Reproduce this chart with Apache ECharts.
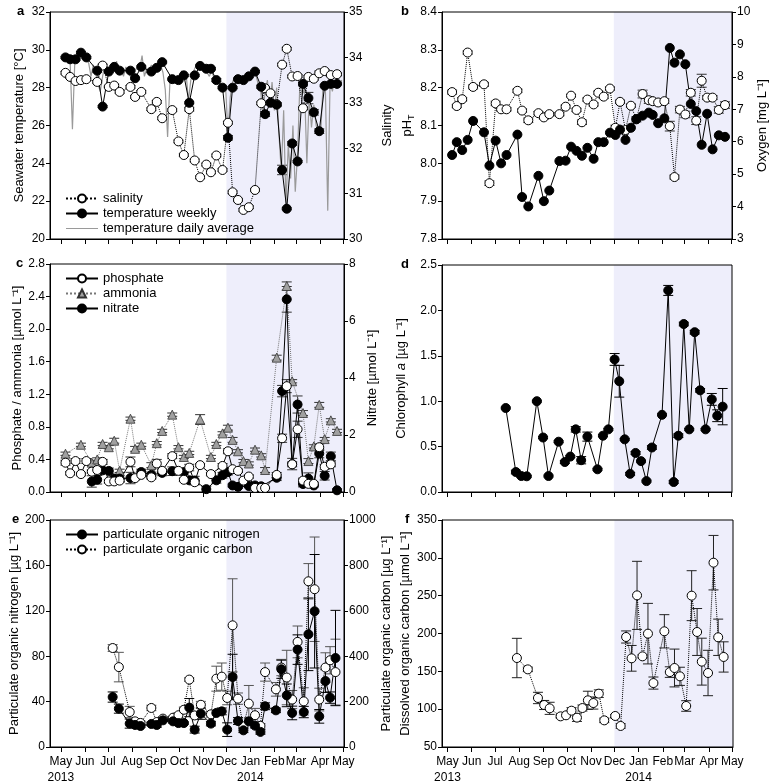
<!DOCTYPE html>
<html>
<head>
<meta charset="utf-8">
<script src="https://cdn.jsdelivr.net/npm/echarts@6/dist/echarts.min.js"></script>
<style>
  html, body { margin: 0; padding: 0; background: #fff; }
  #chart { width: 772px; height: 784px; }
</style>
</head>
<body>
<div id="chart"></div>
<script>
// ---- axis ticks ----
var tickDates = ['2013-05-01', '2013-06-01', '2013-07-01', '2013-08-01', '2013-09-01', '2013-10-01', '2013-11-01',
  '2013-12-01', '2014-01-01', '2014-02-01', '2014-03-01', '2014-04-01', '2014-05-01'];
var monthLabels = ['May', 'Jun', 'Jul', 'Aug', 'Sep', 'Oct', 'Nov', 'Dec', 'Jan', 'Feb', 'Mar', 'Apr', 'May'];
var yearDates = ['2013-05-01', '2014-01-01'];
var yearLabels = ['2013', '2014'];
var shadeStart = '2013-12-01';

// ---- weekly sampling dates (panels a, b, c) ----
var weekDates = ['2013-05-07', '2013-05-13', '2013-05-20', '2013-05-27', '2013-06-03',
  '2013-06-10', '2013-06-17', '2013-06-24', '2013-07-02', '2013-07-09',
  '2013-07-16', '2013-07-30', '2013-08-05', '2013-08-13', '2013-08-26',
  '2013-09-02', '2013-09-09', '2013-09-22', '2013-09-30', '2013-10-07',
  '2013-10-14', '2013-10-21', '2013-10-28', '2013-11-05', '2013-11-11',
  '2013-11-18', '2013-11-26', '2013-12-03', '2013-12-09', '2013-12-16',
  '2013-12-23', '2013-12-30', '2014-01-07', '2014-01-15', '2014-01-20',
  '2014-01-27', '2014-02-04', '2014-02-11', '2014-02-17', '2014-02-24',
  '2014-03-03', '2014-03-10', '2014-03-17', '2014-03-24', '2014-03-31',
  '2014-04-07', '2014-04-15', '2014-04-23'];

// a: salinity, weekly temperature
var salinity = [33.66, 33.57, 33.48, 33.50, 33.52, null, 33.46, 33.82, 33.35, 33.38,
  33.24, 33.35, 33.13, 33.24, 32.86, 33.02, 32.66, 32.84, 32.15, 31.85,
  32.86, 31.73, 31.36, 31.64, 31.47, 31.84, 31.52, 32.56, 31.03, 30.86,
  30.64, 30.70, 31.08, 32.99, 33.32, 33.21, 32.97, 33.84, 34.19, 33.58,
  33.59, 32.88, 33.57, 33.53, 33.65, 33.70, 33.61, 33.63];
var salinityErr = [0.03, 0.03, 0.02, 0.02, 0.03, null, 0.03, 0.03, 0.02, 0.03,
  0.03, 0.03, 0.03, 0.03, 0.03, 0.03, 0.03, 0.03, 0.03, 0.03,
  0.04, 0.03, 0.03, 0.03, 0.03, 0.03, 0.03, 0.03, 0.03, 0.03,
  0.03, 0.03, 0.03, 0.03, 0.03, 0.03, 0.03, 0.03, 0.03, 0.03,
  0.03, 0.03, 0.03, 0.03, 0.05, 0.03, 0.03, 0.03];
var tempWeekly = [29.6, 29.5, 29.5, 29.85, 29.6, null, 28.9, 27.0, 28.85, 29.1,
  28.9, 28.9, 28.5, 29.1, 28.85, 29.05, 29.35, 28.45, 28.4, 28.65,
  27.2, 28.65, 29.15, 29.0, 29.0, 28.4, 28.0, 25.35, 28.0, 28.45,
  28.4, 28.6, 28.85, 28.05, 26.6, 27.2, 27.1, 23.65, 21.6, 25.05,
  24.1, 28.2, 27.45, 26.7, 25.7, 28.1, 28.2, 28.2];
var tempWeeklyErr = [0.05, 0.05, 0.05, 0.05, 0.05, null, 0.08, 0.05, 0.05, 0.05,
  0.05, 0.05, 0.05, 0.05, 0.05, 0.05, 0.05, 0.05, 0.05, 0.05,
  0.05, 0.05, 0.05, 0.05, 0.05, 0.08, 0.05, 0.12, 0.05, 0.05,
  0.05, 0.05, 0.05, 0.08, 0.12, 0.1, 0.1, 0.25, 0.05, 0.1,
  0.05, 0.1, 0.3, 0.15, 0.12, 0.05, 0.05, 0.05];

// a: daily average temperature, one value every 3 days from May 1 2013
var dailyStart = '2013-05-01';
var dailyStep = 3;
var tempDaily = [
  29.6, 29.7, 29.5, 29.8, 29.4, 25.8, 29.3, 29.6, 29.8, 29.7, 29.9,
  29.5, 29.3, 28.6, 29.2, 28.8, 28.2, 27.8, 28.6, 29.2, 28.7,
  28.8, 29.2, 28.9, 29.4, 28.7, 29.0, 28.6, 29.1, 28.8, 28.6,
  28.4, 28.9, 29.1, 29.0, 29.7, 28.6, 29.0, 28.8, 29.2, 29.0,
  29.1, 29.4, 29.2, 28.8, 27.9, 25.4, 28.3, 28.6, 28.2, 28.5,
  28.4, 28.9, 28.6, 28.7, 27.3, 28.4, 28.8, 29.1, 29.2, 29.1,
  28.9, 29.1, 28.8, 28.6, 28.9, 28.5, 28.3, 28.6, 28.1, 27.8, 28.0,
  25.6, 27.5, 28.3, 28.6, 28.4, 28.2, 28.5, 28.4, 28.7, 28.5,
  28.8, 29.0, 28.7, 28.2, 28.0, 26.6, 27.8, 28.4, 27.0, 28.3,
  26.8, 28.0, 25.5, 23.5, 26.8, 21.8, 25.0, 23.2, 26.0, 22.5,
  24.5, 28.3, 27.6, 28.0, 24.0, 27.5, 25.9, 27.1, 26.0, 25.6,
  25.7, 28.2, 27.8, 21.5, 28.3, 27.8, 28.4, 28.3, 28.1, 28.4];

// b: pH and oxygen
var ph = [8.022, 8.056, 8.035, 8.062, 8.112, null, 8.082, 7.994, 8.06, 8.0,
  8.022, 8.076, 7.911, 7.886, 7.967, 7.9, 7.928, 8.006, 8.007, 8.044,
  8.033, 8.02, 8.041, 8.012, 8.056, 8.056, 8.081, 8.075, 8.089, 8.062,
  8.094, 8.117, 8.126, 8.134, 8.128, 8.106, 8.119, 8.305, 8.266, 8.288,
  8.262, 8.157, 8.138, 8.049, 8.131, 8.037, 8.074, 8.07];
var oxygen = [7.53, 7.10, 7.31, 8.75, 7.69, null, 7.77, 4.72, 7.18, 7.0,
  7.0, 7.57, 6.96, 6.66, 6.88, 6.75, 6.85, 6.85, 7.08, 7.42,
  6.98, 6.60, 7.30, 7.15, 7.51, 7.39, 7.64, 6.43, 7.23, 6.36,
  7.11, 6.69, 7.47, 7.28, 7.25, 7.21, 7.25, 6.48, 4.91, 6.99,
  6.84, 7.51, 6.65, 7.88, 7.36, 7.36, 6.98, 7.13];
var oxygenErr = [0.06, 0.05, 0.05, 0.05, 0.06, null, 0.06, 0.07, 0.07, 0.05,
  0.05, 0.05, 0.05, 0.07, 0.05, 0.05, 0.05, 0.05, 0.05, 0.04,
  0.05, 0.07, 0.05, 0.05, 0.05, 0.06, 0.05, 0.08, 0.05, 0.07,
  0.05, 0.08, 0.12, 0.1, 0.08, 0.08, 0.07, 0.15, 0.06, 0.1,
  0.1, 0.1, 0.12, 0.2, 0.06, 0.06, 0.1, 0.1];

// c: nutrients
var phosphate = [0.36, 0.23, 0.38, 0.22, 0.38, 0.25, 0.27, 0.37, 0.13, 0.13,
  0.14, 0.37, 0.17, 0.21, 0.18, 0.35, 0.26, 0.44, 0.26, 0.15,
  0.3, 0.12, 0.33, null, 0.22, null, 0.32, 0.5, 0.28, 0.26,
  0.14, 0.19, 0.05, 0.05, 0.05, null, 0.21, 0.66, 1.30, 0.34,
  0.77, 0.14, 0.10, 0.10, 0.55, 0.31, 0.34, null];
var phosphateErr = [0.03, 0.02, 0.03, 0.02, 0.03, 0.02, 0.02, 0.03, 0.02, 0.02,
  0.02, 0.06, 0.02, 0.02, 0.02, 0.05, 0.02, 0.03, 0.02, 0.02,
  0.04, 0.02, 0.02, null, 0.02, null, 0.03, 0.03, 0.02, 0.02,
  0.02, 0.02, 0.01, 0.01, 0.01, null, 0.03, 0.05, 0.08, 0.03,
  0.1, 0.03, 0.02, 0.02, 0.04, 0.03, 0.03, null];
var ammonia = [0.47, null, null, 0.58, null, 0.36, 0.40, 0.59, 0.55, 0.63,
  0.26, 0.90, 0.53, 0.58, 0.33, 0.60, 0.75, 0.95, 0.55, 0.43,
  0.48, null, 0.89, null, 0.43, 0.59, 0.72, 0.79, 0.64, 0.50,
  0.38, 0.35, 0.52, 0.45, 0.27, null, 1.65, null, 2.53, 1.36,
  null, 0.97, 0.38, 0.56, 1.07, 0.65, 0.88, 0.75];
var ammoniaErr = [0.02, null, null, 0.02, null, 0.03, 0.02, 0.02, 0.02, 0.03,
  0.02, 0.02, 0.03, 0.02, 0.03, 0.02, 0.02, 0.02, 0.02, 0.02,
  0.02, null, 0.06, null, 0.02, 0.02, 0.02, 0.03, 0.03, 0.02,
  0.02, 0.02, 0.02, 0.02, 0.03, null, 0.03, null, 0.05, 0.02,
  null, 0.03, 0.03, 0.02, 0.03, 0.02, 0.02, 0.02];
var nitrate = [null, null, null, null, null, 0.37, 0.43, 0.76, 0.74, 0.47,
  0.47, 0.49, null, 0.70, 0.6, null, 0.67, 0.73, null, 0.70,
  0.41, 0.40, null, 0.10, null, 0.41, 0.59, 0.70, 0.23, 0.18,
  null, 0.21, 0.23, 0.2, null, null, 0.5, 3.54, 6.76, 0.98,
  3.07, 0.28, 0.47, 0.23, 1.35, 0.57, 1.25, 0.06];
var nitrateErr = [null, null, null, null, null, 0.2, 0.15, 0.1, 0.1, 0.1,
  0.1, 0.2, null, 0.1, 0.1, null, 0.1, 0.15, null, 0.1,
  0.1, 0.15, null, 0.1, null, 0.1, 0.1, 0.1, 0.05, 0.05,
  null, 0.05, 0.05, 0.05, null, null, 0.1, 0.2, 0.45, 0.2,
  0.3, 0.1, 0.2, 0.05, 0.15, 0.15, 0.15, 0.05];

// d: chlorophyll a
var chlDates = ['2013-07-15', '2013-07-28', '2013-08-04', '2013-08-11', '2013-08-24',
  '2013-09-01', '2013-09-08', '2013-09-21', '2013-09-29', '2013-10-06',
  '2013-10-13', '2013-10-20', '2013-10-28', '2013-11-10', '2013-11-17',
  '2013-11-24', '2013-12-02', '2013-12-08', '2013-12-15', '2013-12-22',
  '2013-12-29', '2014-01-05', '2014-01-12', '2014-01-19', '2014-02-01',
  '2014-02-09', '2014-02-16', '2014-02-22', '2014-03-01', '2014-03-08',
  '2014-03-15', '2014-03-22', '2014-03-29', '2014-04-06', '2014-04-13',
  '2014-04-20'];
var chlorophyll = [0.925, 0.22, 0.176, 0.173, 1.0, 0.60, 0.176, 0.554, 0.33, 0.39,
  0.69, 0.35, 0.61, 0.25, 0.62, 0.69, 1.46, 1.22, 0.58, 0.20,
  0.43, 0.34, 0.12, 0.49, 0.85, 2.22, 0.11, 0.62, 1.85, 0.69,
  1.76, 1.12, 0.69, 1.02, 0.84, 0.94];
var chlorophyllErr = [0.01, 0.02, 0.015, 0.01, 0.01, 0.01, 0.01, 0.01, 0.015, 0.01,
  0.03, 0.04, 0.05, 0.01, 0.01, 0.01, 0.065, 0.175, 0.01, 0.015,
  0.015, 0.01, 0.01, 0.02, 0.01, 0.055, 0.015, 0.02, 0.02, 0.01,
  0.02, 0.02, 0.01, 0.065, 0.065, 0.2];

// e: particulate organic nitrogen / carbon
var pomDates = ['2013-07-07', '2013-07-15', '2013-07-29', '2013-08-05', '2013-08-12',
  '2013-08-26', '2013-09-02', '2013-09-10', '2013-09-23', '2013-09-30',
  '2013-10-07', '2013-10-14', '2013-10-21', '2013-10-29', '2013-11-11',
  '2013-11-18', '2013-11-25', '2013-12-02', '2013-12-09', '2013-12-16',
  '2013-12-23', '2013-12-30', '2014-01-07', '2014-01-14', '2014-01-20',
  '2014-02-03', '2014-02-10', '2014-02-17', '2014-02-24', '2014-03-03',
  '2014-03-11', '2014-03-17', '2014-03-25', '2014-03-31', '2014-04-08',
  '2014-04-14', '2014-04-21'];
var pon = [44, 33.8, 20.6, 19.4, 18.5, 20.3, 19.4, 23.5, 22.6, 21.1,
  21.1, 34.7, 15.3, 29.4, 20.6, 30, 31.4, 15.3, 61.7, 22.9,
  14.7, 22.6, 18.8, 13.3, 35.9, 32.3, 68.5, 45.5, 30, 85.8,
  30.8, 99.3, 119.6, 27, 58.1, 43.5, 78.4];
var ponErr = [4.5, 4, 4, 2, 1, 1.5, 2, 1, 1.5, 2,
  1, 8, 3, 5, 2, 2, 3, 6, 20, 3,
  2, 3, 2, 2, 3, 2, 8, 10, 6, 13,
  5, 32, 50, 6, 10, 5, 42];
var poc = [436, 352, 154, 113, 106, 172, 110, 125, 129, 140,
  164, 297, 139, 186, 144, 301, 310, 216, 536, 213,
  91, 191, 140, 93, 330, 254, 350, 306, 209, 463,
  201, 730, 695, 209, 350, 382, 330];
var pocErr = [15, 65, 25, 10, 8, 12, 6, 8, 6, 10,
  12, 8, 10, 15, 12, 55, 60, 30, 205, 25,
  10, 80, 30, 10, 40, 30, 36, 120, 40, 70,
  60, 78, 230, 50, 65, 60, 145];

// f: dissolved organic carbon
var docDates = ['2013-07-29', '2013-08-12', '2013-08-25', '2013-09-02', '2013-09-09',
  '2013-09-23', '2013-09-30', '2013-10-07', '2013-10-14', '2013-10-21',
  '2013-10-28', '2013-11-04', '2013-11-11', '2013-11-18', '2013-12-02',
  '2013-12-09', '2013-12-16', '2013-12-23', '2013-12-30', '2014-01-06',
  '2014-01-13', '2014-01-20', '2014-02-03', '2014-02-10', '2014-02-16',
  '2014-02-23', '2014-03-03', '2014-03-10', '2014-03-17', '2014-03-23',
  '2014-03-31', '2014-04-07', '2014-04-13', '2014-04-20'];
var doc = [167.6, 152.6, 114.8, 105.5, 101.1, 90.5, 91.9, 98, 88.8, 101.5,
  111.7, 108.1, 120.5, 85.2, 91, 77.8, 195.4, 167.2, 250.4, 169.8,
  199.8, 134.5, 202.9, 149, 154.4, 143.4, 104.2, 250, 202, 162.8,
  147.8, 293.6, 195, 169];
var docErr = [26, 3, 7.5, 6, 8, 2, 2, 4, 5, 4,
  12, 8, 5, 3, 2, 3, 8, 17, 45, 2,
  40, 8, 22, 7, 25, 12, 7, 33, 31, 31,
  30, 36, 24, 20];

// ---- helpers ----
function toTime(s) {
  var p = s.split('-');
  return Date.UTC(+p[0], +p[1] - 1, +p[2]);
}
function pairs(dates, vals) {
  return dates.map(function (d, i) { return [toTime(d), vals[i] == null ? '-' : vals[i]]; });
}
function errData(dates, vals, errs) {
  var out = [];
  dates.forEach(function (d, i) {
    if (vals[i] == null || errs[i] == null) return;
    out.push([toTime(d), vals[i] - errs[i], vals[i] + errs[i]]);
  });
  return out;
}
var dailyData = tempDaily.map(function (v, i) {
  return [toTime(dailyStart) + i * dailyStep * 86400000, v];
});
var tickTimes = tickDates.map(toTime);
var yearTimes = yearDates.map(toTime);

var FONT = 'Arial, "Liberation Sans", sans-serif';
var TICK_FONT = 12;

function dateAxis(grid, min, labels) {
  return {
    type: 'value', gridIndex: grid, position: 'bottom', min: toTime(min), max: toTime('2014-05-02'),
    axisLine: { show: true, lineStyle: { color: '#000', width: 1 } },
    axisTick: { show: true, customValues: tickTimes, length: 5, lineStyle: { color: '#000' } },
    axisLabel: {
      show: labels, customValues: tickTimes, color: '#000', fontSize: TICK_FONT, margin: 9,
      fontFamily: FONT, hideOverlap: false, interval: 0, showMinLabel: true, showMaxLabel: true,
      formatter: function (v) {
        var i = tickTimes.indexOf(v);
        return i < 0 ? '' : monthLabels[i];
      }
    },
    splitLine: { show: false }
  };
}
function yearAxis(grid, min) {
  return {
    type: 'value', gridIndex: grid, position: 'bottom', min: toTime(min), max: toTime('2014-05-02'),
    axisLine: { show: false }, axisTick: { show: false }, splitLine: { show: false },
    axisLabel: {
      customValues: yearTimes, color: '#000', fontSize: TICK_FONT, margin: 25,
      fontFamily: FONT, hideOverlap: false, showMinLabel: true, showMaxLabel: true,
      formatter: function (v) {
        var i = yearTimes.indexOf(v);
        return i < 0 ? '' : yearLabels[i];
      }
    }
  };
}
function valAxis(grid, pos, min, max, step, name, gap, dec, rich) {
  var nts = { fontSize: 13, color: '#000', fontFamily: FONT };
  if (rich) nts.rich = rich;
  return {
    type: 'value', gridIndex: grid, position: pos, min: min, max: max, interval: step,
    name: name, nameLocation: 'middle', nameGap: gap, nameRotate: 90,
    nameTextStyle: nts,
    axisLine: { show: true, lineStyle: { color: '#000' } },
    axisTick: { show: true, length: 4, lineStyle: { color: '#000' } },
    axisLabel: {
      color: '#000', fontSize: TICK_FONT, margin: 5, fontFamily: FONT,
      formatter: function (v) { return dec ? v.toFixed(dec) : String(v); }
    },
    splitLine: { show: false }
  };
}
function shade(idx, yIdx) {
  return {
    type: 'line', xAxisIndex: idx, yAxisIndex: yIdx, data: [], z: 1, silent: true,
    markArea: {
      silent: true, itemStyle: { color: '#eeeefb' },
      data: [[{ xAxis: toTime(shadeStart) }, { xAxis: toTime('2014-05-02') }]]
    }
  };
}
function errSeries(xi, yi, data, color) {
  return {
    type: 'custom', xAxisIndex: xi, yAxisIndex: yi, data: data, silent: true,
    encode: { x: 0, y: [1, 2] }, itemStyle: { color: color }, clip: true,
    renderItem: function (params, api) {
      var x = api.value(0);
      var top = api.coord([x, api.value(2)]);
      var bot = api.coord([x, api.value(1)]);
      var w = 5;
      var st = { stroke: api.visual('color'), lineWidth: 1 };
      return {
        type: 'group', children: [
          { type: 'line', shape: { x1: top[0], y1: top[1], x2: bot[0], y2: bot[1] }, style: st },
          { type: 'line', shape: { x1: top[0] - w, y1: top[1], x2: top[0] + w, y2: top[1] }, style: st },
          { type: 'line', shape: { x1: bot[0] - w, y1: bot[1], x2: bot[0] + w, y2: bot[1] }, style: st }
        ]
      };
    }
  };
}
function lineSeries(name, xi, yi, data, filled, dotted, extra) {
  var s = {
    name: name, type: 'line', xAxisIndex: xi, yAxisIndex: yi, data: data,
    connectNulls: true, symbol: 'circle', symbolSize: 9, showSymbol: true,
    itemStyle: { color: filled ? '#000' : '#fff', borderColor: '#000', borderWidth: 1 },
    lineStyle: { color: '#000', width: 1, type: dotted ? 'dotted' : 'solid' }
  };
  return Object.assign(s, extra || {});
}

var sup = '\u207B\u00B9';
var grids = [
  { left: 50, top: 12, width: 294, height: 227 },
  { left: 442, top: 12, width: 290, height: 227 },
  { left: 50, top: 264, width: 294, height: 228 },
  { left: 442, top: 265, width: 290, height: 227 },
  { left: 50, top: 520, width: 294, height: 227 },
  { left: 442, top: 520, width: 291, height: 227 }
].map(function (g) {
  return Object.assign({ show: true, borderColor: '#000', borderWidth: 1, backgroundColor: 'transparent', z: 3 }, g);
});

var legendBase = {
  orient: 'vertical', itemWidth: 32, itemHeight: 10, itemGap: 2,
  textStyle: { fontSize: 13, color: '#000', fontFamily: FONT }, selectedMode: false
};
// plain line icon (no marker) for the daily temperature legend entry
var plainLineIcon = 'path://M0,0L0.01,0L0,0.01Z M0,4.4L32,4.4L32,5.6L0,5.6Z M0,10L0.01,10L0,9.99Z';

var option = {
  animation: false,
  textStyle: { fontFamily: FONT },
  grid: grids,
  xAxis: [
    dateAxis(0, '2013-04-17', false),
    dateAxis(1, '2013-04-24', false),
    dateAxis(2, '2013-04-17', false),
    dateAxis(3, '2013-04-24', false),
    dateAxis(4, '2013-04-17', true),
    dateAxis(5, '2013-04-24', true),
    yearAxis(4, '2013-04-17'),
    yearAxis(5, '2013-04-24')
  ],
  yAxis: [
    valAxis(0, 'left', 20, 32, 2, 'Seawater temperature [°C]', 24, 0),
    valAxis(0, 'right', 30, 35, 1, 'Salinity', 37, 0),
    valAxis(1, 'left', 7.8, 8.4, 0.1, '{m|pH}{s|T}', 25, 1,
      { m: { fontSize: 13, lineHeight: 18 }, s: { fontSize: 9, lineHeight: 11, verticalAlign: 'bottom' } }),
    valAxis(1, 'right', 3, 10, 1, 'Oxygen [mg L' + sup + ']', 24, 0),
    valAxis(2, 'left', 0, 2.8, 0.4, 'Phosphate / ammonia [µmol L' + sup + ']', 26, 1),
    valAxis(2, 'right', 0, 8, 2, 'Nitrate [µmol L' + sup + ']', 22, 0),
    valAxis(3, 'left', 0, 2.5, 0.5, '{n|Chlorophyll }{i|a}{n| [µg L' + sup + ']}', 34, 1,
      { n: { fontSize: 13 }, i: { fontSize: 13, fontStyle: 'italic' } }),
    valAxis(4, 'left', 0, 200, 40, 'Particulate organic nitrogen [µg L' + sup + ']', 26, 0),
    valAxis(4, 'right', 0, 1000, 200, 'Particulate organic carbon [µg L' + sup + ']', 27, 0),
    valAxis(5, 'left', 50, 350, 50, 'Dissolved organic carbon [µmol L' + sup + ']', 30, 0)
  ],
  legend: [
    Object.assign({
      left: 60, top: 187,
      data: ['salinity', 'temperature weekly', { name: 'temperature daily average', icon: plainLineIcon }]
    }, legendBase),
    Object.assign({ left: 60, top: 267, data: ['phosphate', 'ammonia', 'nitrate'] }, legendBase),
    Object.assign({ left: 60, top: 523, data: ['particulate organic nitrogen', 'particulate organic carbon'] }, legendBase)
  ],
  graphic: [
    ['a', 17, 12], ['b', 401, 12], ['c', 16, 264], ['d', 401, 265], ['e', 12, 520], ['f', 405, 520]
  ].map(function (t) {
    return {
      type: 'text', left: t[1], top: t[2] - 7,
      style: { text: t[0], fontSize: 13, fontWeight: 'bold', fill: '#000', fontFamily: FONT }
    };
  }),
  series: [
    // panel a
    shade(0, 0),
    lineSeries('temperature daily average', 0, 0, dailyData, false, false, {
      showSymbol: false, symbol: 'none', lineStyle: { color: '#9a9a9a', width: 1.2 }, itemStyle: { color: '#9a9a9a' }
    }),
    errSeries(0, 1, errData(weekDates, salinity, salinityErr), '#333'),
    errSeries(0, 0, errData(weekDates, tempWeekly, tempWeeklyErr), '#333'),
    lineSeries('salinity', 0, 1, pairs(weekDates, salinity), false, true),
    lineSeries('temperature weekly', 0, 0, pairs(weekDates, tempWeekly), true, false),

    // panel b
    shade(1, 2),
    errSeries(1, 3, errData(weekDates, oxygen, oxygenErr), '#333'),
    lineSeries('oxygen', 1, 3, pairs(weekDates, oxygen), false, true),
    lineSeries('pH', 1, 2, pairs(weekDates, ph), true, false),

    // panel c
    shade(2, 4),
    errSeries(2, 4, errData(weekDates, ammonia, ammoniaErr), '#333'),
    errSeries(2, 4, errData(weekDates, phosphate, phosphateErr), '#333'),
    errSeries(2, 5, errData(weekDates, nitrate, nitrateErr), '#333'),
    lineSeries('ammonia', 2, 4, pairs(weekDates, ammonia), false, true, {
      symbol: 'triangle', symbolSize: 9,
      itemStyle: { color: '#a0a0a0', borderColor: '#333', borderWidth: 0.8 },
      lineStyle: { color: '#777', width: 1, type: 'dotted' }
    }),
    lineSeries('nitrate', 2, 5, pairs(weekDates, nitrate), true, false),
    lineSeries('phosphate', 2, 4, pairs(weekDates, phosphate), false, false),

    // panel d
    shade(3, 6),
    errSeries(3, 6, errData(chlDates, chlorophyll, chlorophyllErr), '#000'),
    lineSeries('chlorophyll', 3, 6, pairs(chlDates, chlorophyll), true, false),

    // panel e
    shade(4, 7),
    errSeries(4, 8, errData(pomDates, poc, pocErr), '#555'),
    errSeries(4, 7, errData(pomDates, pon, ponErr), '#000'),
    lineSeries('particulate organic carbon', 4, 8, pairs(pomDates, poc), false, true),
    lineSeries('particulate organic nitrogen', 4, 7, pairs(pomDates, pon), true, false),

    // panel f
    shade(5, 9),
    errSeries(5, 9, errData(docDates, doc, docErr), '#222'),
    lineSeries('dissolved organic carbon', 5, 9, pairs(docDates, doc), false, true)
  ]
};

var chart = echarts.init(document.getElementById('chart'), null, { renderer: 'canvas' });
chart.setOption(option);
</script>
</body>
</html>
